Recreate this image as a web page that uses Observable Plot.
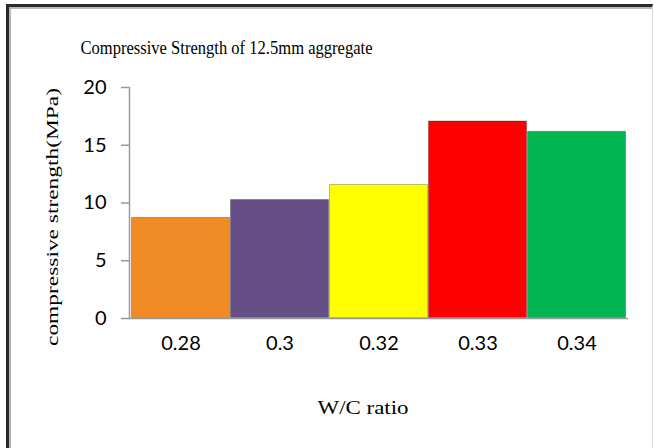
<!DOCTYPE html>
<html>
<head>
<meta charset="utf-8">
<script src="https://cdn.jsdelivr.net/npm/d3@7"></script>
<script src="https://cdn.jsdelivr.net/npm/@observablehq/plot@0.6"></script>
<style>
  html, body { margin: 0; padding: 0; background: #fff; }
  #wrap { position: relative; width: 654px; height: 448px; overflow: hidden; }
  #frame { position: absolute; left: 6px; top: 4px; width: 647px; height: 460px;
           border-left: 3px solid #2a2a2a; border-top: 3px solid #2a2a2a;
           border-right: 1px solid #d8d8d8; box-sizing: border-box;
           box-shadow: inset 2px 2px 0 #b8b8b8; }
  #chart { position: absolute; left: 0; top: 0; }
</style>
</head>
<body>
<div id="wrap"><div id="frame"></div><div id="chart"></div></div>
<script>
const categories = ["0.28", "0.3", "0.32", "0.33", "0.34"];
const values = [8.75, 10.3, 11.6, 17.1, 16.2];
const colors = ["#F08A24", "#664E86", "#FFFF00", "#FF0000", "#00B451"];
const yTicks = [0, 5, 10, 15, 20];
const title = "Compressive Strength of 12.5mm aggregate";
const xTitle = "W/C ratio";
const yTitle = "compressive strength(MPa)";

const data = categories.map((c, i) => ({ c, v: values[i], col: colors[i] }));
const serif = "Liberation Serif, Times New Roman, serif";

const plot = Plot.plot({
  width: 654,
  height: 448,
  marginTop: 87,
  marginBottom: 130,
  marginLeft: 129,
  marginRight: 26,
  style: { fontFamily: "Lato, sans-serif", fontSize: "20px", color: "#000", background: "transparent" },
  x: { domain: categories, padding: 0, label: null },
  y: { domain: [0, 20], label: null },
  marks: [
    Plot.barY(data, { x: "c", y: "v", fill: "col", stroke: "rgba(0,0,0,0.25)", strokeWidth: 1, inset: 0.5 }),
    Plot.ruleY([0], { stroke: "#999", strokeWidth: 1.5 }),
    Plot.frame({ anchor: "left", stroke: "#999", strokeWidth: 1.5 }),
    Plot.axisY({ ticks: yTicks, tickSize: 8, tickPadding: 15, stroke: "#999", strokeWidth: 1.5, fill: "#000", fontSize: 20, label: null }),
    Plot.axisX({ tickSize: 0, tickPadding: 17, fill: "#000", fontSize: 20, label: null }),
    Plot.text([title], { frameAnchor: "top-left", dx: -49, dy: -47, textAnchor: "start",
      fontFamily: serif, fontSize: 19, fill: "#000" }),
    Plot.text([xTitle], { frameAnchor: "bottom", dx: -16, dy: 95,
      fontFamily: serif, fontSize: 19, fill: "#000" }),
    Plot.text([yTitle], { frameAnchor: "left", textAnchor: "middle", dx: -77, dy: 14, rotate: -90,
      fontFamily: serif, fontSize: 17, fill: "#000" })
  ]
});

// fit the titles to the measured lengths of the reference (its lettering is condensed)
const fitLengths = new Map([[title, 292], [xTitle, 91], [yTitle, 258]]);
d3.select(plot).selectAll("text").each(function () {
  const t = this.textContent;
  if (fitLengths.has(t)) {
    d3.select(this).attr("textLength", fitLengths.get(t)).attr("lengthAdjust", "spacingAndGlyphs");
  }
});
document.getElementById("chart").appendChild(plot);
</script>
</body>
</html>
